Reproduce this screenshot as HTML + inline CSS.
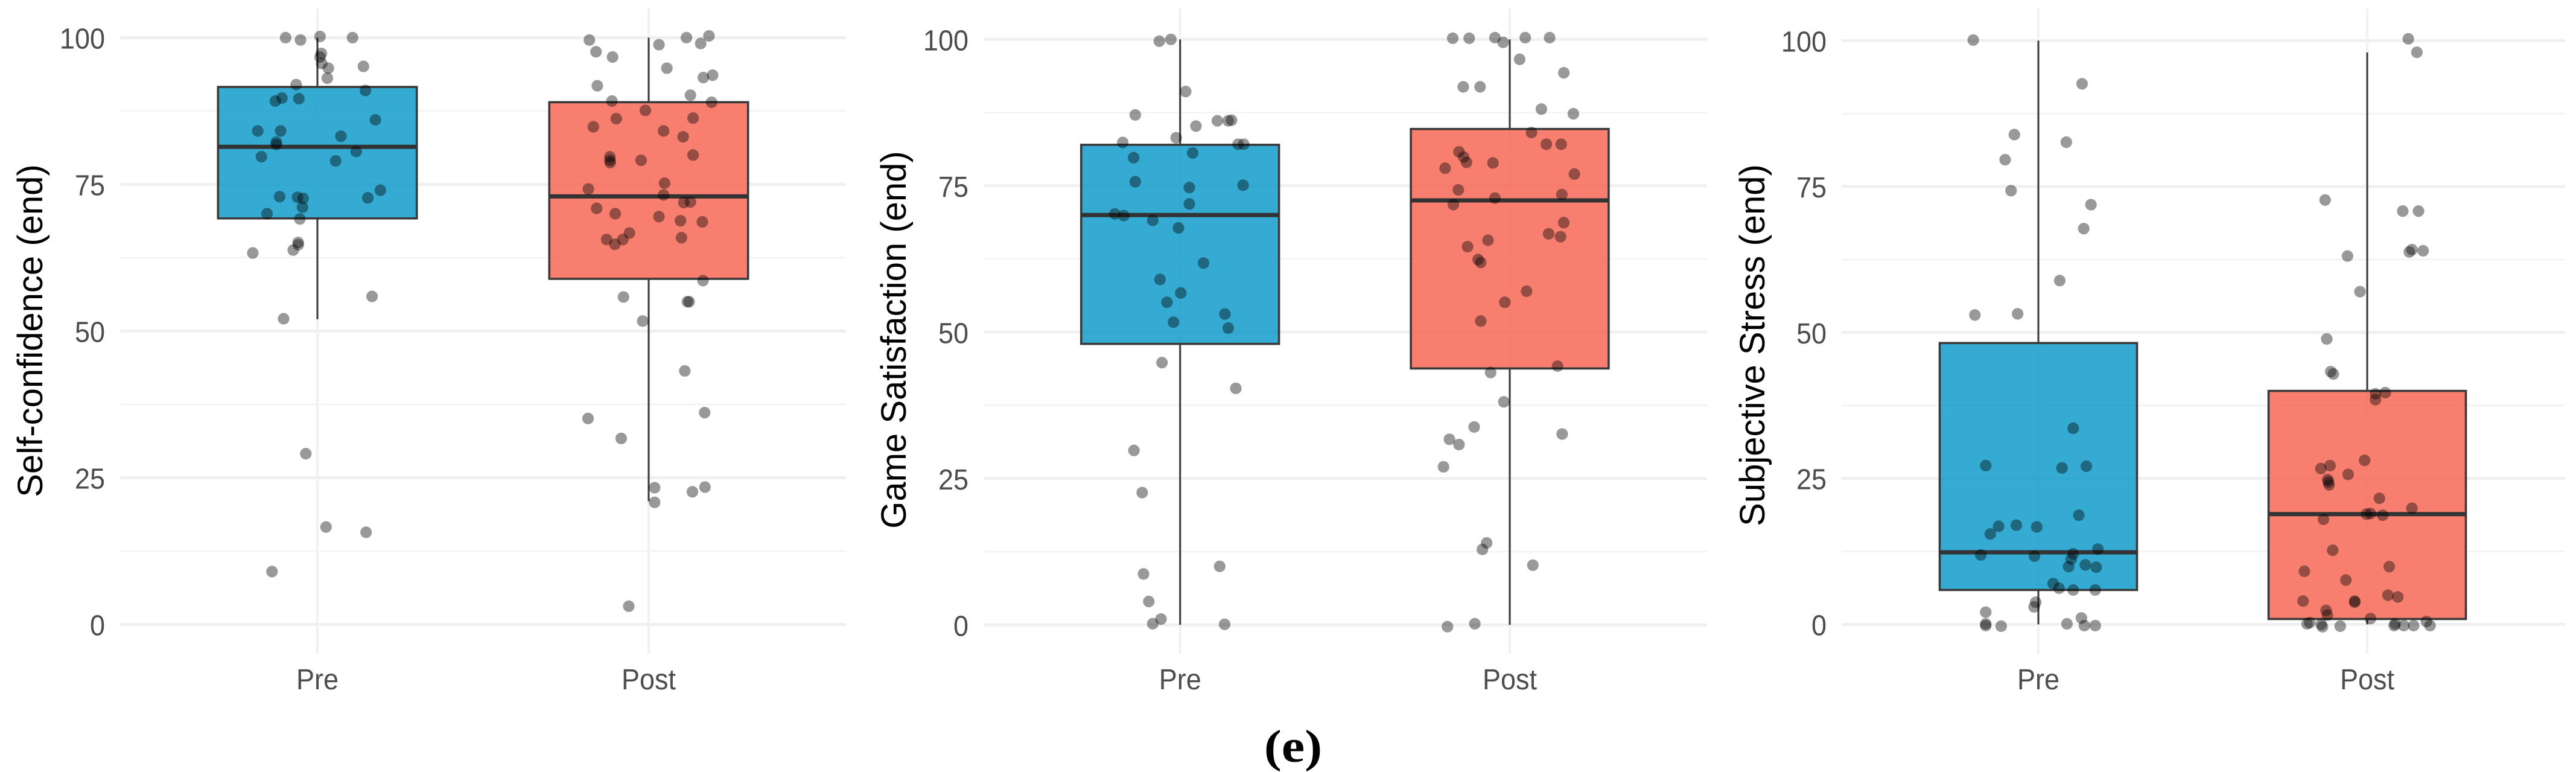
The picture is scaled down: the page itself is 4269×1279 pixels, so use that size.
<!DOCTYPE html>
<html lang="en">
<head>
<meta charset="utf-8">
<title>Pre vs Post boxplots</title>
<style>
html,body{margin:0;padding:0;background:#fff;}
#figure{display:block;width:4269px;height:1279px;background:#fff;}
text{font-family:"Liberation Sans",Arial,sans-serif;}
</style>
</head>
<body>
<svg id="figure" xmlns="http://www.w3.org/2000/svg" width="4269" height="1279" viewBox="0 0 4269 1279">
<text x="0" y="0" transform="translate(2143 1262) scale(1.14 1)" text-anchor="middle" style="font-family:'Liberation Serif',serif;font-weight:bold;font-size:76px" fill="#000">(e)</text>
</svg>
<script>
const categories = ['Pre', 'Post'];
const yTickLabels = [0, 25, 50, 75, 100];
const yMinorTicks = [12.5, 37.5, 62.5, 87.5];

const confidenceTitle = 'Self-confidence (end)';
const confidencePreBox = [52.0, 69.2, 81.4, 91.6, 100];
const confidencePostBox = [21.0, 58.9, 72.95, 89.0, 100];
const confidencePreValues = [100,99.6,100.2,100,97.3,96.7,95.6,94.8,95.1,93.1,92.0,91.0,89.7,89.2,89.6,86.0,84.1,84.1,83.2,82.2,81.8,80.6,79.7,79.0,74.0,72.9,72.8,72.6,72.7,71.1,70.0,69.1,65.1,64.7,63.8,63.3,55.9,52.1,29.1,16.6,15.7,9.0];
const confidencePreJitter = [-.096,-.051,.008,.106,.012,.008,.013,.033,.139,.03,-.064,.145,-.107,-.127,-.056,.175,-.18,-.111,.071,-.124,-.124,.117,-.169,.055,.19,-.114,-.06,-.043,.152,-.045,-.152,-.053,-.058,-.058,-.073,-.195,.165,-.102,-.035,.026,.147,-.137];
const confidencePostValues = [99.6,98.8,100,100.3,99,97.6,96.7,94.8,93.6,93.2,91.8,90.2,89.2,89,87.6,86.2,86.3,84.8,84.1,83.1,79.7,79.1,78.7,79.1,80,75.2,74.2,73.2,71.9,72,70.9,70,69.5,68.8,68.6,66.7,65.6,65.6,64.8,65.9,58.6,55.8,55,55,51.7,43.2,35.1,36.1,31.7,23.3,23.4,22.6,20.8,3.1];
const confidencePostJitter = [-.179,.031,.114,.182,.157,-.159,-.109,.055,.193,.165,-.155,.126,-.111,.19,-.01,-.098,.134,-.167,.045,.104,-.117,-.117,-.116,-.023,.134,.048,-.182,.045,.106,.126,-.157,-.101,.031,.096,.162,-.058,-.127,-.078,-.102,.099,.164,-.076,.117,.122,-.018,.109,-.183,.169,-.083,.018,.17,.132,.018,-.06];

const satisfactionTitle = 'Game Satisfaction (end)';
const satisfactionPreBox = [0, 48.0, 70.0, 82.0, 100];
const satisfactionPostBox = [0, 43.8, 72.5, 84.7, 100];
const satisfactionPreValues = [99.7,100,91.1,87.1,86.1,86.1,86.2,85.2,83.2,82.4,82.1,82.1,80.6,79.8,75.7,75.1,74.7,71.9,70.2,69.9,69.1,67.8,61.8,59.0,56.7,55.1,53.1,51.7,50.7,44.8,40.4,29.8,22.6,10,8.7,4,1,0.2,0.1];
const satisfactionPreJitter = [-.063,-.028,.017,-.136,.113,.146,.156,.048,-.012,-.174,.176,.193,.038,-.141,-.136,.191,.028,.028,-.198,-.171,-.083,-.005,.071,-.061,.002,-.04,.136,-.02,.146,-.055,.169,-.14,-.115,.12,-.111,-.095,-.058,-.083,.135];
const satisfactionPostValues = [100.2,100.2,100.3,99.5,100.3,100.3,96.6,94.3,91.9,91.9,88.1,87.3,84.1,82.1,82.1,80.8,79.9,79,78.9,78,77,74.3,73.5,72.9,71.8,68.7,66.8,66.3,65.7,64.6,62.4,61.9,57,55.1,51.9,44.2,43.1,38.1,33.8,32.6,31.7,30.8,27,14,12.9,10.2,0.2,-0.3];
const satisfactionPostJitter = [-.173,-.123,-.045,-.02,.047,.121,.03,.164,-.141,-.09,.096,.193,.066,.111,.156,-.154,-.14,-.131,-.051,-.196,.196,-.156,.158,-.045,-.171,.164,.118,.154,-.066,-.128,-.096,-.088,.051,-.015,-.088,.145,-.058,-.018,-.108,.159,-.183,-.154,-.201,-.07,-.083,.07,-.106,-.189];

const stressTitle = 'Subjective Stress (end)';
const stressPreBox = [0, 5.9, 12.35, 48.2, 100];
const stressPostBox = [0, 0.93, 18.9, 40, 97.97];
const stressPreValues = [100.1,92.6,83.9,82.6,79.6,74.3,71.9,67.8,58.9,53.2,53,33.6,27.2,27.1,26.8,18.7,17,16.7,16.8,15.5,12.9,12.1,11.9,11.7,11.2,9.9,10.2,9.8,7,6.2,5.9,5.9,3.8,3,2.1,1.1,0.1,-0.2,0.1,-0.3,-0.2,-0.2];
const stressPreJitter = [-.198,.133,-.073,.085,-.101,-.083,.16,.138,.065,-.063,-.193,.106,-.16,.146,.072,.123,-.067,-.005,-.121,-.146,.181,.106,-.175,-.012,.1,.092,.143,.176,.045,.063,.106,.173,-.008,-.013,-.16,.131,-.16,-.16,.087,-.113,.14,.173];
const stressPostValues = [100.3,98,72.7,70.8,70.8,63.1,63.8,64.2,64,57,48.9,43.3,42.9,39.7,39.5,38.5,28.1,27.2,26.7,25.7,24.8,24.4,23.9,21.6,19.9,18.9,19,18.7,18,12.7,9.9,9.1,7.6,5,4.7,4,4,3.8,2.4,1.6,1,0.5,0.3,0.1,0,-0.4,-0.3,-0.2,0.1,-0.2,-0.2,-0.2];
const stressPostJitter = [.125,.151,-.128,.108,.156,-.06,.128,.136,.17,-.022,-.123,-.111,-.103,.055,.025,.025,-.008,-.113,-.141,-.058,-.12,-.118,-.116,.037,.136,-.002,.01,.047,-.133,-.105,.067,-.191,-.065,.063,.093,-.195,-.038,-.038,-.125,-.121,.01,.18,-.175,-.183,-.14,-.136,-.082,.082,.085,.111,.141,.191];

const svgNS = 'http://www.w3.org/2000/svg';
const root = document.getElementById('figure');
const groupColors = ['#0296c9', '#f65f4c'];

function shape(parent, tag, attrs) {
  const el = document.createElementNS(svgNS, tag);
  for (const k in attrs) el.setAttribute(k, attrs[k]);
  parent.appendChild(el);
  return el;
}

function drawPanel(cfg) {
  const g = shape(root, 'g', {});
  
  

  const yScale = v => cfg.y0 + (cfg.y100 - cfg.y0) * v / 100;
  const xScale = c => cfg.x1 + (cfg.x2 - cfg.x1) * c;

  yMinorTicks.forEach(t => {
    const line = shape(g, 'line', {x1: cfg.left, x2: cfg.right, y1: yScale(t), y2: yScale(t), stroke: '#f4f4f4', 'stroke-width': 3});
    
    
  });
  yTickLabels.forEach(t => {
    const line = shape(g, 'line', {x1: cfg.left, x2: cfg.right, y1: yScale(t), y2: yScale(t), stroke: '#f0f0f0', 'stroke-width': 5});
    
    
    const yb = yScale(t) + 18;
    const label = shape(g, 'text', {x: 0, y: 0, 'text-anchor': 'end', 'font-size': 45, fill: '#4d4d4d', transform: 'translate(' + (cfg.left - 25) + ' ' + yb + ') scale(1 1.07)'});
    label.textContent = t;
    
    
  });
  categories.forEach((c, i) => {
    const x = xScale(i);
    const line = shape(g, 'line', {x1: x, x2: x, y1: 14, y2: 1083, stroke: '#f2f2f2', 'stroke-width': 4.5});
    
    
    const label = shape(g, 'text', {x: 0, y: 0, 'text-anchor': 'middle', 'font-size': 45, fill: '#4d4d4d', transform: 'translate(' + x + ' 1142) scale(1 1.07)'});
    label.textContent = c;
    
    
  });

  const title = shape(g, 'text', {x: 0, y: 0, 'text-anchor': 'middle', 'font-size': 58, fill: '#000', transform: 'translate(' + cfg.titleX + ' ' + cfg.titleY + ') rotate(-90)'});
  title.textContent = cfg.title;
  
  

  cfg.boxes.forEach((b, i) => {
    const cx = xScale(i);
    const hw = (cfg.x2 - cfg.x1) * 0.3;
    const whiskerHigh = shape(g, 'line', {x1: cx, x2: cx, y1: yScale(b[4]), y2: yScale(b[3]), stroke: '#3a3a3a', 'stroke-width': 3});
    
    
    const whiskerLow = shape(g, 'line', {x1: cx, x2: cx, y1: yScale(b[1]), y2: yScale(b[0]), stroke: '#3a3a3a', 'stroke-width': 3});
    
    
    const rect = shape(g, 'rect', {x: cx - hw, y: yScale(b[3]), width: hw * 2, height: yScale(b[1]) - yScale(b[3]), fill: groupColors[i], 'fill-opacity': 0.8, stroke: '#3a3a3a', 'stroke-width': 3.6});
    
    
    const med = shape(g, 'line', {x1: cx - hw, x2: cx + hw, y1: yScale(b[2]), y2: yScale(b[2]), stroke: '#333333', 'stroke-width': 7});
    
    
  });

  cfg.points.forEach((set, i) => {
    set.values.forEach((v, k) => {
      const pt = shape(g, 'circle', {cx: xScale(i + set.jitter[k]), cy: yScale(v), r: 9.6, fill: '#000', 'fill-opacity': 0.4});
      
      
    });
  });
}

drawPanel({name: 'self-confidence-panel', title: confidenceTitle, x1: 526, x2: 1075, y0: 1034.5, y100: 62.4, left: 199, right: 1402, titleX: 70, titleY: 548,
  boxes: [confidencePreBox, confidencePostBox],
  points: [{values: confidencePreValues, jitter: confidencePreJitter}, {values: confidencePostValues, jitter: confidencePostJitter}]});
drawPanel({name: 'game-satisfaction-panel', title: satisfactionTitle, x1: 1955.7, x2: 2502, y0: 1035.3, y100: 65.3, left: 1630, right: 2829, titleX: 1501, titleY: 563,
  boxes: [satisfactionPreBox, satisfactionPostBox],
  points: [{values: satisfactionPreValues, jitter: satisfactionPreJitter}, {values: satisfactionPostValues, jitter: satisfactionPostJitter}]});
drawPanel({name: 'subjective-stress-panel', title: stressTitle, x1: 3378, x2: 3923, y0: 1034.5, y100: 67.3, left: 3052, right: 4251, titleX: 2924, titleY: 572,
  boxes: [stressPreBox, stressPostBox],
  points: [{values: stressPreValues, jitter: stressPreJitter}, {values: stressPostValues, jitter: stressPostJitter}]});
</script>
</body>
</html>
